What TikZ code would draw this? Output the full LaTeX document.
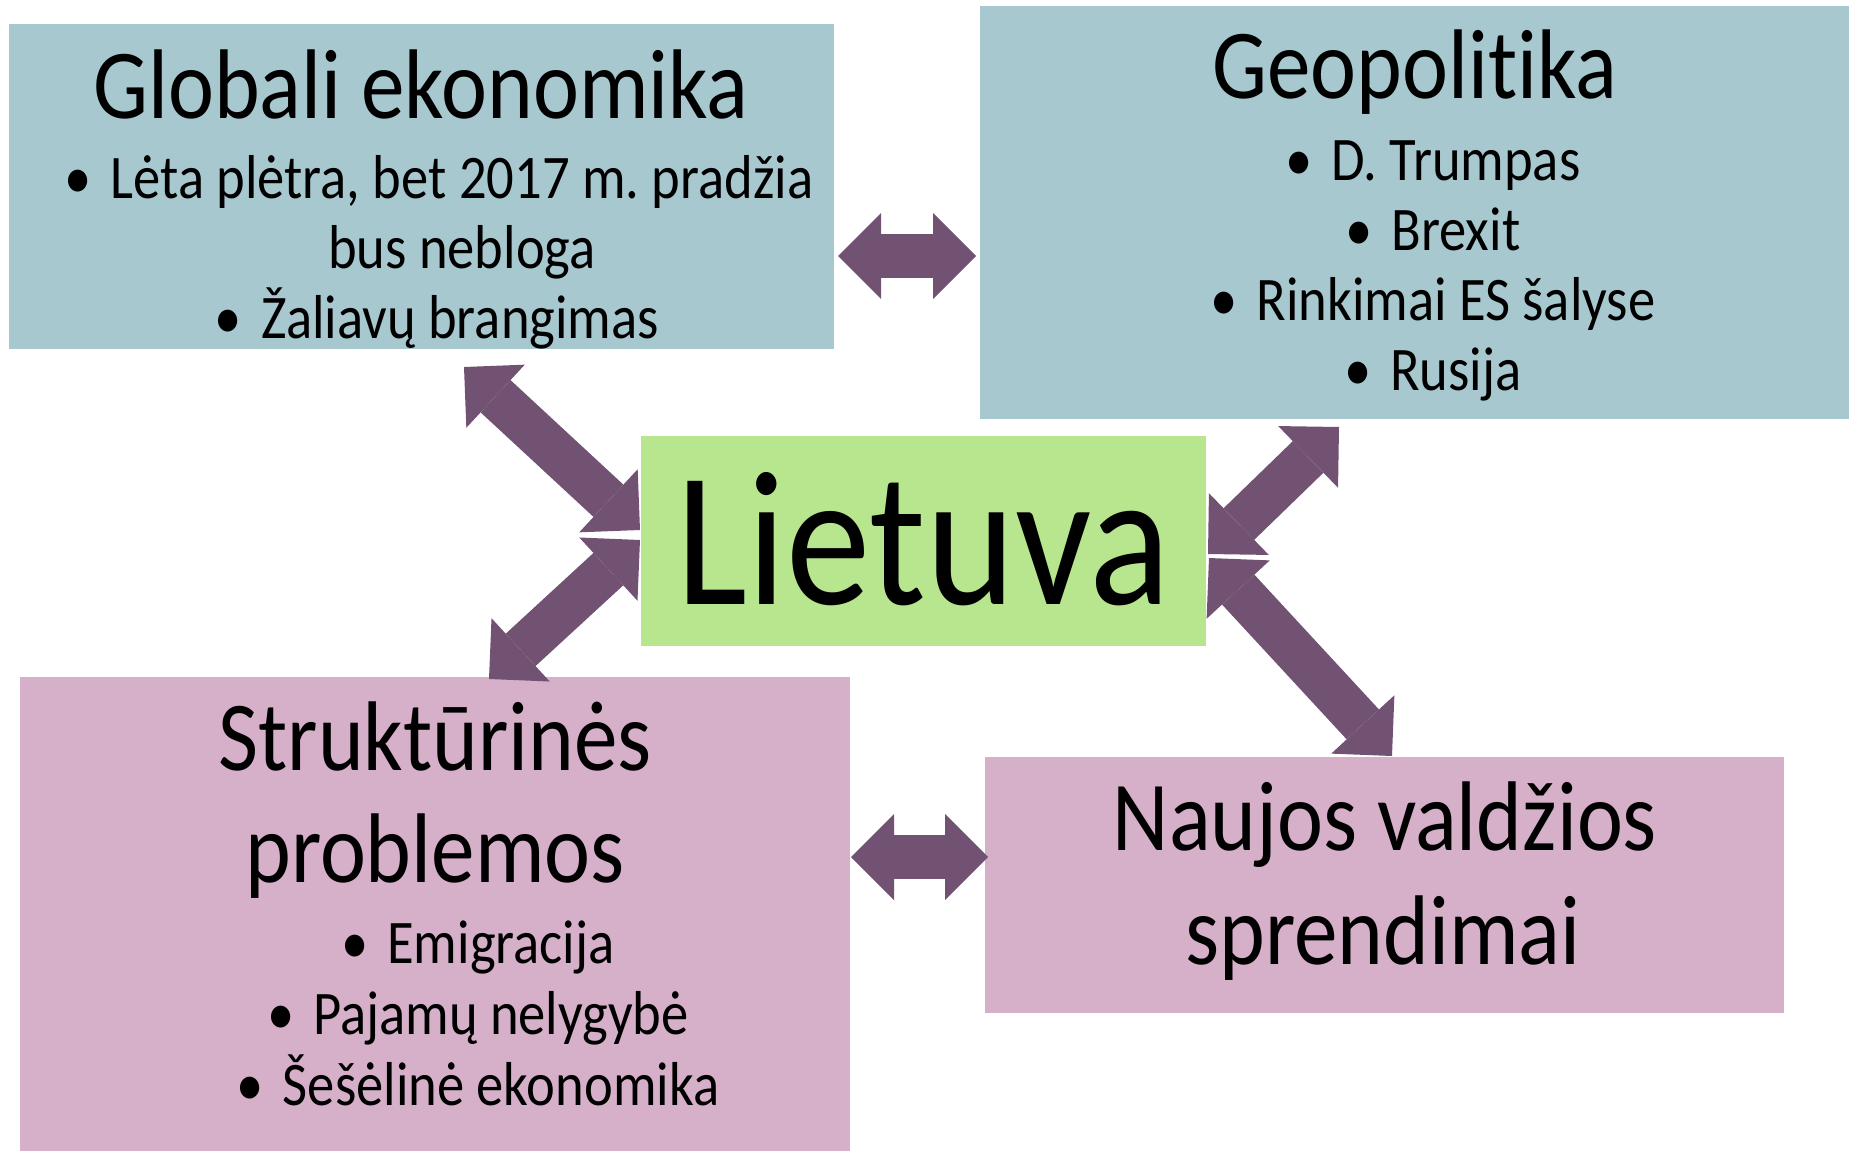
\documentclass[tikz,border=0pt]{standalone}
\usepackage{fontspec}
\setmainfont{Carlito}[FakeStretch=0.88, Ligatures=NoCommon]
\usetikzlibrary{positioning, calc, arrows.meta}
\frenchspacing

\definecolor{boxblue}{RGB}{168,200,208}
\definecolor{boxgreen}{RGB}{184,230,143}
\definecolor{boxpink}{RGB}{214,175,201}
\definecolor{linkpurple}{RGB}{114,82,114}

\newcommand{\blt}{\llap{\textbullet\hspace{9.5pt}}}

\tikzset{
  box/.style={inner sep=0pt, outer sep=0pt},
  ttl/.style={inner sep=0pt, anchor=base, font=\fontsize{49.5pt}{56pt}\selectfont},
  itm/.style={inner sep=0pt, anchor=base, font=\fontsize{31pt}{35pt}\selectfont},
  link/.style={draw=linkpurple, line width=22pt,
    {Triangle[length=21.5pt, width=43pt, line width=0pt]}-{Triangle[length=21.5pt, width=43pt, line width=0pt]}}
}

\begin{document}
\begin{tikzpicture}[x=0.5pt, y=-0.5pt]
            \useasboundingbox (0,0) rectangle (1849,1151);

            \node[box, fill=boxblue, minimum width=412.5pt, minimum height=162.5pt] (glob) at (421.5,186.5) {};
            \node[box, fill=boxblue, minimum width=434.5pt, minimum height=206.5pt] (geo) at (1414.5,212.5) {};
            \node[box, fill=boxgreen, minimum width=282.5pt, minimum height=105pt,
                  text height=63pt, text depth=0pt, font=\fontsize{96pt}{100pt}\selectfont] (lt) at (923.5,541) {Lietuva};
            \node[box, fill=boxpink, minimum width=415pt, minimum height=237pt] (strukt) at (435,914) {};
            \node[box, fill=boxpink, minimum width=399.5pt, minimum height=128pt] (naujos) at (1384.5,885) {};

            % texts of the boxes
            \node[itm] (glob1) at (462,198) {\blt Lėta plėtra, bet 2017 m. pradžia};
            \node[ttl] (globT) at (421,118) {Globali ekonomika};
            \node[itm] (glob2) at (462,268) {bus nebloga};
            \node[itm] (glob3) at (460,338) {\blt Žaliavų brangimas};

            \node[ttl] (geoT) at (1415,98) {Geopolitika};
            \foreach \txt [count=\i] in {D. Trumpas, Brexit, Rinkimai ES šalyse, Rusija}
                \node[itm] (geo\i) at (1456,110+70*\i) {\blt\txt};

            \node[ttl] (struktT) at (435,770) {Struktūrinės};
            \node[ttl] (struktT2) at (435,882) {problemos};
            \foreach \txt [count=\i] in {Emigracija, Pajamų nelygybė, Šešėlinė ekonomika}
                \node[itm] (strukt\i) at (501,892+71*\i) {\blt\txt};

            \node[ttl] (naujosT) at (1385,850) {Naujos valdžios};
            \node[ttl] (naujosT2) at (1383,964) {sprendimai};

            % links
            \draw[link] ($(glob.south east)+(4,-93)$) -- ($(geo.south west)+(-4,-163)$);
            \draw[link] ($(strukt.north east)+(1,180)$) -- ($(naujos.north west)+(3,100)$);
            \draw[link] ($(glob.south)+(42.5,18)$) -- ($(lt.west)+(-1,-11)$);
            \draw[link] ($(lt.west)+(-1,-1)$) -- ($(strukt.north west)+(469,2)$);
            \draw[link] ($(lt.east)+(2,13)$) -- ($(geo.south west)+(359,8)$);
            \draw[link] ($(lt.east)+(3,17)$) -- ($(naujos.north west)+(407,-1)$);
        \end{tikzpicture}
\end{document}
